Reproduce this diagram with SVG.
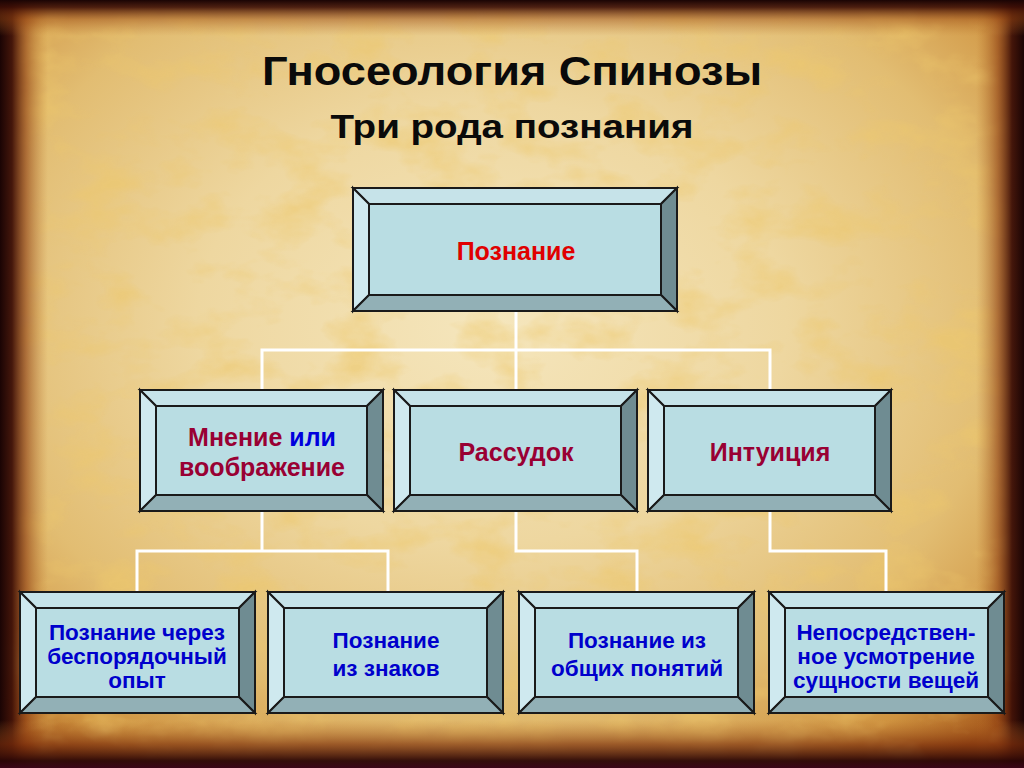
<svg xmlns="http://www.w3.org/2000/svg" width="1024" height="768" viewBox="0 0 1024 768">
<defs>
<radialGradient id="paper" cx="48%" cy="42%" r="72%">
<stop offset="0" stop-color="#f5e6bd"/>
<stop offset="0.4" stop-color="#eed7a0"/>
<stop offset="0.7" stop-color="#e2bd72"/>
<stop offset="0.9" stop-color="#cf9340"/>
<stop offset="1" stop-color="#a4561a"/>
</radialGradient>
<linearGradient id="edgeL" x1="0" y1="0" x2="1" y2="0">
<stop offset="0" stop-color="#1a0404" stop-opacity="1"/>
<stop offset="0.25" stop-color="#3c0e06" stop-opacity="0.95"/>
<stop offset="0.55" stop-color="#8a3a10" stop-opacity="0.6"/>
<stop offset="1" stop-color="#b8702a" stop-opacity="0"/>
</linearGradient>
<linearGradient id="edgeR" x1="1" y1="0" x2="0" y2="0">
<stop offset="0" stop-color="#1a0404" stop-opacity="1"/>
<stop offset="0.25" stop-color="#3c0e06" stop-opacity="0.95"/>
<stop offset="0.55" stop-color="#8a3a10" stop-opacity="0.6"/>
<stop offset="1" stop-color="#b8702a" stop-opacity="0"/>
</linearGradient>
<linearGradient id="edgeT" x1="0" y1="0" x2="0" y2="1">
<stop offset="0" stop-color="#1a0404" stop-opacity="1"/>
<stop offset="0.2" stop-color="#3c0e06" stop-opacity="0.9"/>
<stop offset="0.55" stop-color="#9a4a14" stop-opacity="0.45"/>
<stop offset="1" stop-color="#b8702a" stop-opacity="0"/>
</linearGradient>
<linearGradient id="edgeB" x1="0" y1="1" x2="0" y2="0">
<stop offset="0" stop-color="#3a0618" stop-opacity="1"/>
<stop offset="0.15" stop-color="#2a0606" stop-opacity="0.95"/>
<stop offset="0.5" stop-color="#7a2e0c" stop-opacity="0.65"/>
<stop offset="1" stop-color="#b8702a" stop-opacity="0"/>
</linearGradient>
<filter id="mottle" x="0" y="0" width="100%" height="100%">
<feTurbulence type="fractalNoise" baseFrequency="0.015 0.025" numOctaves="4" seed="11" result="n"/>
<feColorMatrix in="n" type="matrix" values="0 0 0 0 0.85  0 0 0 0 0.58  0 0 0 0 0.15  0 0 0 -2.6 1.4"/>
</filter>
<style>
.t{fill:#c6e3e9;stroke:#1a1a1a;stroke-width:2;stroke-linejoin:miter}
.l{fill:#cfe9ef;stroke:#1a1a1a;stroke-width:2}
.r{fill:#6f8c92;stroke:#1a1a1a;stroke-width:2}
.b{fill:#92b0b6;stroke:#1a1a1a;stroke-width:2}
.f{fill:#b9dde3;stroke:#1a1a1a;stroke-width:2}
.conn{fill:none;stroke:#ffffff;stroke-width:3}
.lbl{font-family:"Liberation Sans",Arial,sans-serif;font-weight:bold;text-anchor:middle}
.red{fill:#e00000;font-size:25px}
.dred{fill:#990033;font-size:25px}
.blue{fill:#0000cc;font-size:22.5px}
.title{font-family:"Liberation Sans",Arial,sans-serif;font-weight:bold;text-anchor:middle;fill:#0a0a0a}
</style>
</defs>

<g id="background">
<rect x="0" y="0" width="1024" height="768" fill="url(#paper)"/>
<rect x="0" y="0" width="1024" height="768" filter="url(#mottle)" opacity="0.6"/>
<rect x="0" y="0" width="48" height="768" fill="url(#edgeL)"/>
<rect x="976" y="0" width="48" height="768" fill="url(#edgeR)"/>
<rect x="0" y="0" width="1024" height="36" fill="url(#edgeT)"/>
<rect x="0" y="720" width="1024" height="48" fill="url(#edgeB)"/>
</g>

<g id="title">
<text class="title" x="512" y="85" font-size="41" textLength="500" lengthAdjust="spacingAndGlyphs">Гносеология Спинозы</text>
<text class="title" x="512" y="138" font-size="34" textLength="363" lengthAdjust="spacingAndGlyphs">Три рода познания</text>
</g>

<g id="connectors">
<polyline class="conn" points="516,311 516,350"/>
<polyline class="conn" points="262,390 262,350 770,350 770,390"/>
<polyline class="conn" points="516,350 516,390"/>
<polyline class="conn" points="262,511 262,551"/>
<polyline class="conn" points="137,592 137,551 388,551 388,592"/>
<polyline class="conn" points="516,511 516,551 637,551 637,592"/>
<polyline class="conn" points="770,511 770,551 886,551 886,592"/>
</g>

<g id="node-poznanie">
<polygon class="t" points="353,188 677,188 661,204 369,204"/>
<polygon class="l" points="353,188 369,204 369,295 353,311"/>
<polygon class="r" points="677,188 677,311 661,295 661,204"/>
<polygon class="b" points="353,311 369,295 661,295 677,311"/>
<rect class="f" x="369" y="204" width="292" height="91"/>
<text class="lbl red" x="516" y="260">Познание</text>
</g>

<g id="node-mnenie">
<polygon class="t" points="140,390 383,390 367,406 156,406"/>
<polygon class="l" points="140,390 156,406 156,495 140,511"/>
<polygon class="r" points="383,390 383,511 367,495 367,406"/>
<polygon class="b" points="140,511 156,495 367,495 383,511"/>
<rect class="f" x="156" y="406" width="211" height="89"/>
<text class="lbl dred" x="262" y="446">Мнение <tspan fill="#0000dd">или</tspan></text>
<text class="lbl dred" x="262" y="476">воображение</text>
</g>

<g id="node-rassudok">
<polygon class="t" points="394,390 637,390 621,406 410,406"/>
<polygon class="l" points="394,390 410,406 410,495 394,511"/>
<polygon class="r" points="637,390 637,511 621,495 621,406"/>
<polygon class="b" points="394,511 410,495 621,495 637,511"/>
<rect class="f" x="410" y="406" width="211" height="89"/>
<text class="lbl dred" x="516" y="461">Рассудок</text>
</g>

<g id="node-intuiciya">
<polygon class="t" points="648,390 891,390 875,406 664,406"/>
<polygon class="l" points="648,390 664,406 664,495 648,511"/>
<polygon class="r" points="891,390 891,511 875,495 875,406"/>
<polygon class="b" points="648,511 664,495 875,495 891,511"/>
<rect class="f" x="664" y="406" width="211" height="89"/>
<text class="lbl dred" x="770" y="461">Интуиция</text>
</g>

<g id="node-besporyadochny">
<polygon class="t" points="20,592 255,592 239,608 36,608"/>
<polygon class="l" points="20,592 36,608 36,697 20,713"/>
<polygon class="r" points="255,592 255,713 239,697 239,608"/>
<polygon class="b" points="20,713 36,697 239,697 255,713"/>
<rect class="f" x="36" y="608" width="203" height="89"/>
<text class="lbl blue" x="137" y="640">Познание через</text>
<text class="lbl blue" x="137" y="664">беспорядочный</text>
<text class="lbl blue" x="137" y="688">опыт</text>
</g>

<g id="node-znaki">
<polygon class="t" points="268,592 503,592 487,608 284,608"/>
<polygon class="l" points="268,592 284,608 284,697 268,713"/>
<polygon class="r" points="503,592 503,713 487,697 487,608"/>
<polygon class="b" points="268,713 284,697 487,697 503,713"/>
<rect class="f" x="284" y="608" width="203" height="89"/>
<text class="lbl blue" x="386" y="648">Познание</text>
<text class="lbl blue" x="386" y="676">из знаков</text>
</g>

<g id="node-obshchie">
<polygon class="t" points="519,592 754,592 738,608 535,608"/>
<polygon class="l" points="519,592 535,608 535,697 519,713"/>
<polygon class="r" points="754,592 754,713 738,697 738,608"/>
<polygon class="b" points="519,713 535,697 738,697 754,713"/>
<rect class="f" x="535" y="608" width="203" height="89"/>
<text class="lbl blue" x="637" y="648">Познание из</text>
<text class="lbl blue" x="637" y="676">общих понятий</text>
</g>

<g id="node-usmotrenie">
<polygon class="t" points="769,592 1004,592 988,608 785,608"/>
<polygon class="l" points="769,592 785,608 785,697 769,713"/>
<polygon class="r" points="1004,592 1004,713 988,697 988,608"/>
<polygon class="b" points="769,713 785,697 988,697 1004,713"/>
<rect class="f" x="785" y="608" width="203" height="89"/>
<text class="lbl blue" x="886" y="640">Непосредствен-</text>
<text class="lbl blue" x="886" y="664">ное усмотрение</text>
<text class="lbl blue" x="886" y="688">сущности вещей</text>
</g>
</svg>
